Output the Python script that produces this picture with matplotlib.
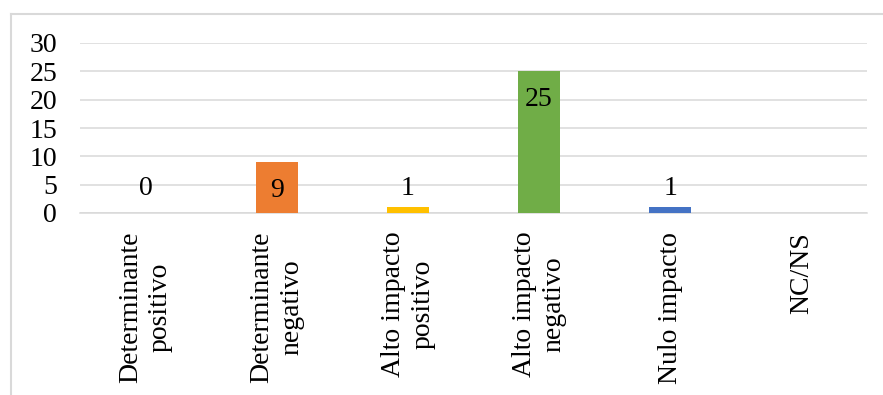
import matplotlib
matplotlib.use("Agg")
import matplotlib.pyplot as plt
from matplotlib.lines import Line2D

categories = [
    "Determinante\npositivo",
    "Determinante\nnegativo",
    "Alto impacto\npositivo",
    "Alto impacto\nnegativo",
    "Nulo impacto",
    "NC/NS",
]
values = [0, 9, 1, 25, 1, None]
colors = ["#A5A5A5", "#ED7D31", "#FFC000", "#70AD47", "#4472C4", "#5B9BD5"]
y_ticks = [0, 5, 10, 15, 20, 25, 30]

plt.rcParams["font.family"] = ["Liberation Serif", "DejaVu Serif"]

W, H = 883, 395
fig = plt.figure(figsize=(W / 100, H / 100), dpi=100)
ax = fig.add_axes([80 / W, 1 - 213 / H, (867 - 80) / W, (213 - 43) / H])

grid_color = "#D9D9D9"
x = list(range(len(categories)))
for i, v in enumerate(values):
    if v is None:
        continue
    ax.bar(i, v, width=0.32, color=colors[i], zorder=3)
    if v >= 5:
        ax.annotate(str(v), (i, v), xytext=(0, -20.5), textcoords="offset points",
                    ha="center", va="center", fontsize=20, color="black", zorder=4)
    else:
        ax.annotate(str(v), (i, max(v, 1)), xytext=(0, 13.5), textcoords="offset points",
                    ha="center", va="center", fontsize=20, color="black", zorder=4)

ax.set_xlim(-0.5, len(categories) - 0.5)
ax.set_ylim(0, 30)
ax.set_yticks(y_ticks)
ax.set_yticklabels([str(t) for t in y_ticks], fontsize=20)
ax.set_xticks(x)
ax.set_xticklabels(categories, rotation=90, fontsize=20, va="top", ha="center",
                   linespacing=1.25)
ax.tick_params(axis="y", length=0, pad=16.5)
ax.tick_params(axis="x", length=0, pad=13.5)

ax.yaxis.grid(True, color=grid_color, lw=1.1, zorder=0)
for s in ["top", "right", "left"]:
    ax.spines[s].set_visible(False)
ax.spines["bottom"].set_color(grid_color)
ax.spines["bottom"].set_linewidth(1.1)

# chart area border (top and left edges)
fig.add_artist(Line2D([11 / W, 1], [1 - 14 / H, 1 - 14 / H], transform=fig.transFigure,
                      color=grid_color, lw=1.5))
fig.add_artist(Line2D([11 / W, 11 / W], [0, 1 - 14 / H], transform=fig.transFigure,
                      color=grid_color, lw=1.5))

fig.savefig("out.png", dpi=100, facecolor="white")
